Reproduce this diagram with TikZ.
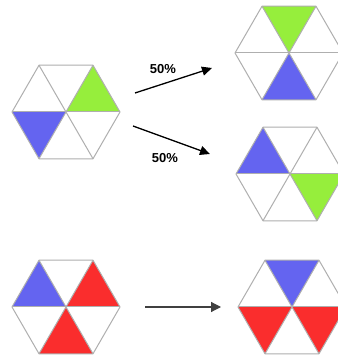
\documentclass[tikz,border=0pt]{standalone}
\usepackage{fontspec}
\setmainfont{Liberation Sans}
\usetikzlibrary{arrows.meta,calc}
\definecolor{greencell}{RGB}{150,238,60}
\definecolor{bluecell}{RGB}{100,100,240}
\definecolor{redcell}{RGB}{250,45,45}
\definecolor{edgecolor}{RGB}{175,175,175}
\newcommand{\hexr}{54}
% one triangle of a hexagon: centre, sector number (0 = upper right), colour
\newcommand{\hexsector}[3]{%
  \fill[#3] (#1) -- ++(#2*60:\hexr) -- ++(#2*60+120:\hexr) -- cycle;}
% outline and the three diagonals
\newcommand{\hexgrid}[1]{%
  \draw[hexline] ($(#1)+(0:\hexr)$) -- ++(120:\hexr) -- ++(180:\hexr)
    -- ++(240:\hexr) -- ++(300:\hexr) -- ++(0:\hexr) -- cycle;
  \foreach \a in {0,60,120}
    \draw[hexline] ($(#1)+(\a:\hexr)$) -- ($(#1)+(\a+180:\hexr)$);}

\begin{document}
\begin{tikzpicture}[x=1pt,y=1pt,
    hexline/.style={edgecolor,line width=1pt,line join=round},
    prob/.style={-{Triangle[length=10pt,width=9pt]},line width=1.3pt,black},
    plain/.style={-{Triangle[length=10pt,width=10pt]},line width=1.2pt,black!75},
    every node/.style={font=\bfseries\fontsize{13}{13}\selectfont}]
  \useasboundingbox[fill=white] (0,0) rectangle (337,358);

  % hexagon centres
  \coordinate (src) at (66,246);
  \coordinate (outa) at (289,305);
  \coordinate (outb) at (290,184);
  \coordinate (pair) at (66,51);
  \coordinate (merged) at (292,51);

  % top left
  \hexsector{src}{0}{greencell}
  \hexsector{src}{3}{bluecell}
  \hexgrid{src}

  % top right, two outcomes
  \hexsector{outa}{1}{greencell}
  \hexsector{outa}{4}{bluecell}
  \hexgrid{outa}
  \hexsector{outb}{2}{bluecell}
  \hexsector{outb}{5}{greencell}
  \hexgrid{outb}

  % bottom row
  \hexsector{pair}{2}{bluecell}
  \hexsector{pair}{0}{redcell}
  \hexsector{pair}{4}{redcell}
  \hexgrid{pair}
  \hexsector{merged}{1}{bluecell}
  \hexsector{merged}{3}{redcell}
  \hexsector{merged}{5}{redcell}
  \hexgrid{merged}

  % arrows
  \coordinate (upfrom) at ($(src)+(69,19)$);
  \coordinate (upto) at ($(outa)+(-77,-15)$);
  \coordinate (downfrom) at ($(src)+(67,-14)$);
  \coordinate (downto) at ($(outb)+(-80,20)$);
  \coordinate (botfrom) at ($(pair)+(79,0)$);
  \coordinate (botto) at ($(merged)+(-71,0)$);
  \draw[prob] (upfrom) -- (upto);
  \node (uplabel) at (163,289) {50\%};
  \draw[prob] (downfrom) -- (downto);
  \node (downlabel) at (165,200) {50\%};
  \draw[plain] (botfrom) -- (botto);
\end{tikzpicture}
\end{document}
